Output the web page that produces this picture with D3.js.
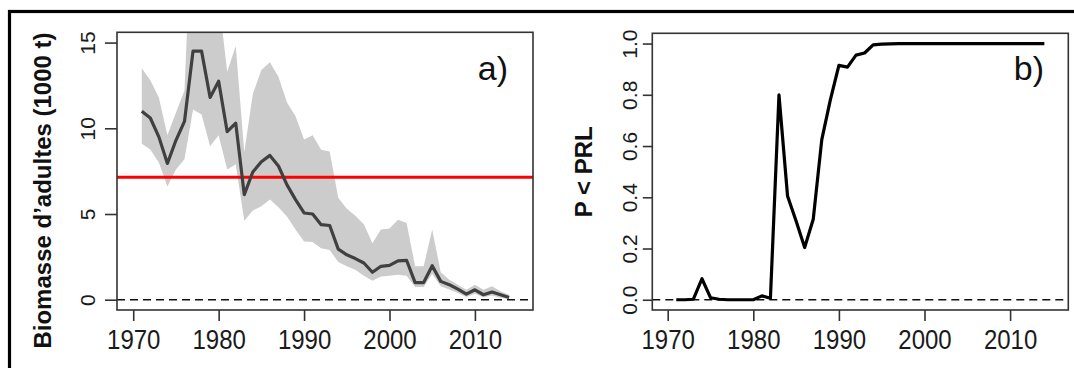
<!DOCTYPE html>
<html>
<head>
<meta charset="utf-8">
<script src="https://cdn.jsdelivr.net/npm/d3@7"></script>
<style>
  body { margin: 0; background: #ffffff; }
  text { font-family: "Liberation Sans", Arial, sans-serif; }
</style>
</head>
<body>
<div id="chart"></div>
<script>
//
// Data: adult biomass (1000 t) with its band, and P < PRL
//
var years = [1971, 1972, 1973, 1974, 1975, 1976, 1977, 1978, 1979, 1980,
             1981, 1982, 1983, 1984, 1985, 1986, 1987, 1988, 1989, 1990,
             1991, 1992, 1993, 1994, 1995, 1996, 1997, 1998, 1999, 2000,
             2001, 2002, 2003, 2004, 2005, 2006, 2007, 2008, 2009, 2010,
             2011, 2012, 2013, 2014];

var biomass = [11.0, 10.6, 9.5, 7.95, 9.3, 10.4, 14.5, 14.5, 11.8, 12.75,
               9.8, 10.3, 6.13, 7.45, 8.05, 8.42, 7.8, 6.7, 5.84, 5.06,
               5.0, 4.38, 4.33, 2.95, 2.62, 2.4, 2.14, 1.6, 1.95, 2.0,
               2.27, 2.3, 1.0, 1.0, 1.98, 1.07, 0.88, 0.62, 0.33, 0.58,
               0.29, 0.45, 0.29, 0.13];

var biomassHigh = [13.5, 12.8, 11.8, 9.6, 10.9, 12.2, 24, 22, 20, 17.6,
                   13.3, 14.8, 8.6, 12.0, 13.4, 13.85, 13.0, 11.5, 10.7, 9.35,
                   9.6, 8.75, 8.65, 5.95, 5.3, 4.9, 4.4, 3.3, 4.1, 4.15,
                   4.67, 4.47, 1.95, 1.95, 4.09, 1.6, 1.17, 0.88, 0.58, 0.88,
                   0.58, 0.78, 0.49, 0.29];

var biomassLow = [9.1, 8.76, 8.0, 6.6, 7.6, 8.2, 11.1, 10.8, 8.95, 9.6,
                  7.6, 7.9, 4.6, 5.2, 5.45, 5.85, 5.4, 4.85, 4.1, 3.4,
                  3.36, 3.0, 2.9, 2.2, 1.95, 1.75, 1.4, 1.1, 1.36, 1.4,
                  1.46, 1.4, 0.74, 0.74, 1.52, 0.78, 0.6, 0.39, 0.16, 0.35,
                  0.14, 0.25, 0.12, 0.05];

var pBelow = [0, 0, 0.002, 0.082, 0.008, 0.002, 0, 0, 0, 0,
              0.015, 0.006, 0.80, 0.405, 0.307, 0.204, 0.314, 0.625, 0.78, 0.915,
              0.908, 0.955, 0.963, 0.995, 0.998, 0.999, 1, 1, 1, 1,
              1, 1, 1, 1, 1, 1, 1, 1, 1, 1,
              1, 1, 1, 1];

var prl = 7.14;

var xTicks = [1970, 1980, 1990, 2000, 2010];
var yTicksA = [0, 5, 10, 15];
var yTicksB = [0, 0.2, 0.4, 0.6, 0.8, 1.0];
var yTickLabelsB = ["0.0", "0.2", "0.4", "0.6", "0.8", "1.0"];

var data = years.map(function(yr, i) {
	return {year: yr, b: biomass[i], hi: biomassHigh[i], lo: biomassLow[i], p: pBelow[i]};
});

//
// svg and outer frame
//
var W = 1074, H = 368;
var svg = d3.select("#chart").append("svg")
	.attr("width", W)
	.attr("height", H);

svg.append("rect")
	.attr("x", 9.5).attr("y", 11.5)
	.attr("width", 1200).attr("height", 500)
	.style("fill", "none")
	.style("stroke", "#000")
	.style("stroke-width", 3.2);

var boxTop = 32.3, boxBottom = 310;
var stretch = 1.17;   // tick labels of the original look a bit tall

//
// helper to draw the axes of one panel
//
function panel(x, y, yTicks, yFormat, labelOffset, tickLen) {
	var g = svg.append("g");

	var xAxis = g.append("g")
		.attr("transform", "translate(0," + boxBottom + ")")
		.call(d3.axisBottom(x).tickValues(xTicks).tickSize(11).tickFormat(d3.format("d")));
	xAxis.select(".domain").remove();
	xAxis.selectAll("line").style("stroke", "#333").style("stroke-width", 1.6);
	xAxis.selectAll("text")
		.attr("transform", "scale(1," + stretch + ")")
		.attr("y", 39 / stretch).attr("dy", 0)
		.style("font-size", "24px")
		.style("fill", "#1a1a1a");

	var yAxis = g.append("g")
		.attr("transform", "translate(" + x.range()[0] + ",0)")
		.call(d3.axisLeft(y).tickValues(yTicks).tickSize(tickLen).tickFormat(yFormat));
	yAxis.select(".domain").remove();
	yAxis.selectAll("line").style("stroke", "#333").style("stroke-width", 1.6);
	yAxis.selectAll("text")
		.attr("transform", "rotate(-90)")
		.attr("x", 0).attr("y", -labelOffset).attr("dy", 0)
		.attr("text-anchor", "middle")
		.style("font-size", "21px")
		.style("fill", "#1a1a1a");

	return g;
}

//
// Panel a) : biomass
//
var xa = d3.scaleLinear().domain([1968.1, 2016.8]).range([117, 533]);
var ya = d3.scaleLinear().domain([-0.6, 15.6]).range([boxBottom, boxTop]);

svg.append("clipPath").attr("id", "clipA")
	.append("rect")
	.attr("x", 117).attr("y", boxTop)
	.attr("width", 533 - 117).attr("height", boxBottom - boxTop);

var band = d3.area()
	.x(function(d) { return xa(d.year); })
	.y0(function(d) { return ya(d.lo); })
	.y1(function(d) { return ya(d.hi); });

svg.append("path")
	.attr("clip-path", "url(#clipA)")
	.attr("d", band(data))
	.style("fill", "#cccccc")
	.style("stroke", "none");

svg.append("line")
	.attr("x1", 117).attr("x2", 533)
	.attr("y1", ya(0)).attr("y2", ya(0))
	.style("stroke", "#111")
	.style("stroke-width", 1.5)
	.style("stroke-dasharray", "8,5");

svg.append("line")
	.attr("x1", 117).attr("x2", 533)
	.attr("y1", ya(prl)).attr("y2", ya(prl))
	.style("stroke", "#ff0000")
	.style("stroke-width", 3);

var lineA = d3.line()
	.x(function(d) { return xa(d.year); })
	.y(function(d) { return ya(d.b); });

svg.append("path")
	.attr("d", lineA(data))
	.style("fill", "none")
	.style("stroke", "#404040")
	.style("stroke-width", 3.2)
	.style("stroke-linejoin", "round");

panel(xa, ya, yTicksA, d3.format("d"), 22, 12);

svg.append("rect")
	.attr("x", 117).attr("y", boxTop)
	.attr("width", 533 - 117).attr("height", boxBottom - boxTop)
	.style("fill", "none")
	.style("stroke", "#333")
	.style("stroke-width", 1.6);

svg.append("text")
	.attr("transform", "translate(51,190.5) rotate(-90)")
	.attr("text-anchor", "middle")
	.style("font-size", "24px")
	.style("font-weight", "bold")
	.style("fill", "#111")
	.text("Biomasse  d\u2019adultes (1000  t)");

svg.append("text")
	.attr("x", 508).attr("y", 80)
	.attr("text-anchor", "end")
	.style("font-size", "34px")
	.style("fill", "#111")
	.text("a)");

//
// Panel b) : probability of being below PRL
//
var xb = d3.scaleLinear().domain([1968.2, 2016.8]).range([652.3, 1068.3]);
var yb = d3.scaleLinear().domain([-0.04, 1.04]).range([boxBottom, 33.3]);

svg.append("line")
	.attr("x1", 652.3).attr("x2", 1068.3)
	.attr("y1", yb(0)).attr("y2", yb(0))
	.style("stroke", "#111")
	.style("stroke-width", 1.5)
	.style("stroke-dasharray", "8,5");

var lineB = d3.line()
	.x(function(d) { return xb(d.year); })
	.y(function(d) { return yb(d.p); });

svg.append("path")
	.attr("d", lineB(data))
	.style("fill", "none")
	.style("stroke", "#000")
	.style("stroke-width", 3.2)
	.style("stroke-linejoin", "round");

panel(xb, yb, yTicksB, function(d, i) { return yTickLabelsB[i]; }, 15.5, 9.5);

svg.append("rect")
	.attr("x", 652.3).attr("y", 33.3)
	.attr("width", 1068.3 - 652.3).attr("height", boxBottom - 33.3)
	.style("fill", "none")
	.style("stroke", "#333")
	.style("stroke-width", 1.6);

svg.append("text")
	.attr("transform", "translate(592,171.7) rotate(-90)")
	.attr("text-anchor", "middle")
	.style("font-size", "24px")
	.style("font-weight", "bold")
	.style("fill", "#111")
	.text("P < PRL");

svg.append("text")
	.attr("x", 1044).attr("y", 80)
	.attr("text-anchor", "end")
	.style("font-size", "34px")
	.style("fill", "#111")
	.text("b)");
</script>
</body>
</html>
